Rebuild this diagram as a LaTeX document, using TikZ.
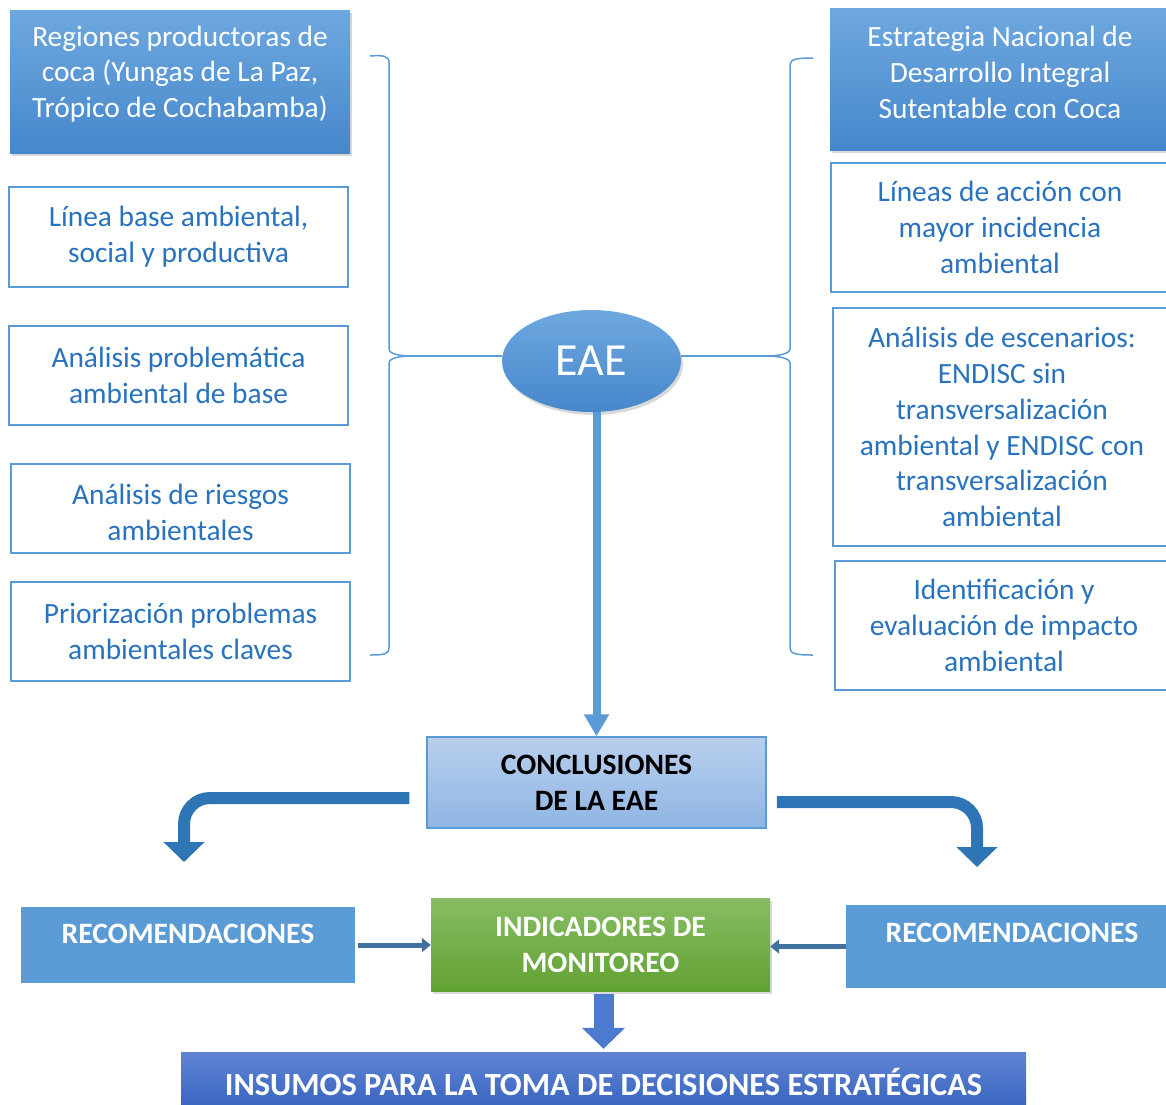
\documentclass[tikz,border=0pt]{standalone}
\usepackage{fontspec}
\setmainfont{Carlito}
\usetikzlibrary{arrows.meta,shapes.geometric,shadows,calc}
\definecolor{bblue}{RGB}{91,155,213}
\definecolor{tblue}{RGB}{40,114,190}
\definecolor{ftop}{RGB}{110,168,223}
\definecolor{fbot}{RGB}{70,135,203}
\definecolor{ctop}{RGB}{184,207,237}
\definecolor{cbot}{RGB}{143,181,228}
\definecolor{arblue}{RGB}{46,117,182}
\definecolor{smblue}{RGB}{65,113,160}
\definecolor{gtop}{RGB}{135,189,99}
\definecolor{gbot}{RGB}{98,162,52}
\definecolor{itop}{RGB}{96,132,211}
\definecolor{ibot}{RGB}{52,98,190}
\definecolor{dtop}{RGB}{76,122,206}
\begin{document}
\begin{tikzpicture}[x=1pt,y=-1pt,
  txt/.style={font=\fontsize{29.4}{35.8}\selectfont, align=center},
  btxt/.style={font=\fontsize{29.6}{35.8}\selectfont\bfseries, align=center},
  shad/.style={drop shadow={opacity=0.3, shadow xshift=2pt, shadow yshift=-3pt}},
  fillbox/.style={rectangle, inner sep=0pt, top color=ftop, bottom color=fbot, shad},
  linebox/.style={txt, rectangle, inner sep=0pt, draw=bblue, line width=2.5pt, fill=white, text=tblue, minimum width=339pt},
  brace/.style={draw=bblue, line width=1.5pt},
  curvearrow/.style={draw=arblue, line width=12pt, rounded corners=26pt, -{Triangle[width=40pt,length=20pt]}},
  smallarrow/.style={draw=smblue, line width=5pt, -{Triangle[width=14pt,length=9pt]}},
]
\useasboundingbox (0,0) rectangle (1166,1104);
\clip (0,0) rectangle (1166,1104);

% left column
\node[fillbox, minimum width=340pt, minimum height=143pt,
  label={[txt, text=white, yshift=7.5pt]center:Regiones productoras de\\coca (Yungas de La Paz,\\Trópico de Cochabamba)}] (reg) at (180,81.5) {};
\node[linebox, minimum height=100pt] (lb) at (178.5,237) {Línea base ambiental,\\social y productiva};
\node[linebox, minimum height=99pt] (ap) at (178.5,375.5) {Análisis problemática\\ambiental de base};
\node[linebox, minimum height=89pt,
  label={[txt, text=tblue, yshift=-3.5pt]center:Análisis de riesgos\\ambientales}] (ar) at (180.5,508.5) {};
\node[linebox, minimum height=99pt] (pp) at (180.5,631.5) {Priorización problemas\\ambientales claves};

% right column
\node[fillbox, minimum width=340pt, minimum height=142pt,
  label={[txt, text=white, yshift=6.5pt]center:Estrategia Nacional de\\Desarrollo Integral\\Sutentable con Coca}] (end) at (1000,79) {};
\node[linebox, minimum width=338pt, minimum height=129pt] (la) at (1000,227.5) {Líneas de acción con\\mayor incidencia\\ambiental};
\node[linebox, minimum width=338pt, minimum height=238pt] (ae) at (1002,427) {Análisis de escenarios:\\ENDISC sin\\transversalización\\ambiental y ENDISC con\\transversalización\\ambiental};
\node[linebox, minimum width=338pt, minimum height=129pt] (ie) at (1004,625.5) {Identificación y\\evaluación de impacto\\ambiental};

% EAE
\node[ellipse, inner sep=0pt, minimum width=179pt, minimum height=102pt, top color=ftop, bottom color=fbot, shad,
  text=white, font=\fontsize{46}{52}\selectfont] (eae) at (591.5,361) {EAE};

% braces
\coordinate (ltip) at (411,356);
\coordinate (rtip) at (766,356);
\draw[brace] (370,56) .. controls (384,55) and (389,56) .. (389,63) -- (389,349)
  .. controls (389,354) and (400,356) .. (ltip)
  .. controls (400,356) and (389,358) .. (389,363) -- (389,648)
  .. controls (389,654) and (384,655) .. (370,655);
\draw[brace] (813,58) .. controls (797,58) and (790,59) .. (790,65) -- (790,349)
  .. controls (790,354) and (778,356) .. (rtip)
  .. controls (778,356) and (790,358) .. (790,363) -- (790,648)
  .. controls (790,654) and (797,655) .. (813,655);
\draw[brace] (ltip) -- (ltip -| eae.west);
\draw[brace] (eae.east |- rtip) -- (rtip);

% conclusiones
\node[btxt, rectangle, inner sep=0pt, minimum width=339pt, minimum height=91pt, top color=ctop, bottom color=cbot,
  draw=bblue, line width=1.5pt, text=black] (conc) at (596.5,782.5) {CONCLUSIONES\\DE LA EAE};
\draw[line width=8pt, bblue, -{Triangle[width=24pt,length=22pt]}] (conc.north |- eae.south) -- (conc.north);

% curved arrows
\coordinate (lstart) at ($(conc.west)+(-17,15.5)$);
\coordinate (lend) at (184,862);
\coordinate (rstart) at ($(conc.east)+(10,19.5)$);
\coordinate (rend) at (977,867);
\draw[curvearrow] (lstart) -| (lend);
\draw[curvearrow] (rstart) -| (rend);

% bottom row
\node[rectangle, inner sep=0pt, minimum width=334pt, minimum height=76pt, fill=bblue,
  label={[btxt, text=white, yshift=11pt]center:RECOMENDACIONES}] (recL) at (188,945) {};
\node[rectangle, inner sep=0pt, minimum width=334pt, minimum height=83pt, fill=bblue,
  label={[btxt, text=white, yshift=13.5pt, xshift=-1pt]center:RECOMENDACIONES}] (recR) at (1013,946.5) {};
\node[btxt, rectangle, inner sep=0pt, minimum width=339pt, minimum height=93pt, top color=gtop, bottom color=gbot, shad,
  text=white] (ind) at (600.5,944.5) {INDICADORES DE\\MONITOREO};
\draw[smallarrow, shorten <=3pt] (recL.east) -- (recL.east -| ind.west);
\draw[smallarrow] (recR.west) -- (recR.west -| ind.east);

\node[rectangle, inner sep=0pt, minimum width=845pt, minimum height=60pt, top color=itop, bottom color=ibot,
  text=white, font=\fontsize{32.4}{38}\selectfont\bfseries] (ins) at (603.5,1082) {INSUMOS PARA LA TOMA DE DECISIONES ESTRATÉGICAS};
\draw[draw=dtop, line width=20pt, -{Triangle[width=42pt,length=21pt]}, shorten <=3pt, shorten >=3pt] (ins.north |- ind.south) -- (ins.north);
\end{tikzpicture}
\end{document}
